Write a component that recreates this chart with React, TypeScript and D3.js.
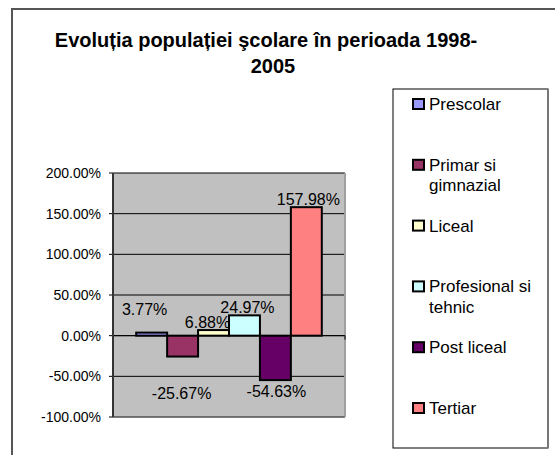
import React from "react";
import * as d3 from "d3";

const titleLines = ["Evoluția populației şcolare în perioada 1998-", "2005"];
const category = ["1998-2005"];
const seriesNames = ["Prescolar", "Primar si gimnazial", "Liceal", "Profesional si tehnic", "Post liceal", "Tertiar"];
const legendLines = [["Prescolar"], ["Primar si", "gimnazial"], ["Liceal"], ["Profesional si", "tehnic"], ["Post liceal"], ["Tertiar"]];
const values = [3.77, -25.67, 6.88, 24.97, -54.63, 157.98];
const colors = ["#9999FF", "#993366", "#FFFFCC", "#CCFFFF", "#660066", "#FF8080"];
const yTicks = [-100, -50, 0, 50, 100, 150, 200];
// manual label nudges (as moved in the source chart), in series order
const labelNudge: [number, number][] = [[-7, -16], [-1, 25], [-6, 0], [3, 0], [1, 0], [2, 0]];

const FONT = "'Liberation Sans', Arial, sans-serif";

export default function App() {
  const W = 555, H = 455;
  const plot = { left: 113, right: 345, top: 173, bottom: 417 };
  const y = d3.scaleLinear().domain([-100, 200]).range([plot.bottom, plot.top]);
  const x0 = d3.scaleBand<string>().domain(category).range([plot.left, plot.right]).paddingInner(0).paddingOuter(0.125);
  const x1 = d3.scaleBand<string>().domain(seriesNames).range([0, x0.bandwidth()]).padding(0);
  const fmt = (v: number) => v.toFixed(2) + "%";

  const legend = { x: 393, y: 89, w: 155, h: 359, first: 110, step: 60.8 };

  return (
    <svg width={W} height={H} style={{ position: "absolute", left: 0, top: 0, background: "#fff" }} fontFamily={FONT}>
      <rect x={0} y={0} width={W} height={H} fill="#fff" />
      <rect x={12} y={9} width={600} height={500} fill="#fff" stroke="#555" strokeWidth={2} />
      {titleLines.map((t, i) => (
        <text key={i} x={i === 0 ? 266 : 273} y={47 + i * 26} textAnchor="middle" fontSize={20} fontWeight="bold" fill="#000">
          {t}
        </text>
      ))}
      {/* plot area */}
      <rect x={plot.left} y={plot.top} width={plot.right - plot.left} height={plot.bottom - plot.top} fill="#C0C0C0" />
      {yTicks.map((t) => (
        <g key={t}>
          <line x1={plot.left} x2={plot.right} y1={y(t)} y2={y(t)} stroke="#000" strokeWidth={1} />
          <line x1={plot.left - 4} x2={plot.left} y1={y(t)} y2={y(t)} stroke="#000" strokeWidth={1} />
          <text x={101} y={y(t) + 5} textAnchor="end" fontSize={14} fill="#000">
            {fmt(t)}
          </text>
        </g>
      ))}
      <line x1={plot.right} x2={plot.right} y1={plot.top} y2={plot.bottom} stroke="#A0A0A0" strokeWidth={2} />
      <line x1={plot.left} x2={plot.right} y1={plot.bottom} y2={plot.bottom} stroke="#777" strokeWidth={1} />
      {/* bars */}
      {seriesNames.map((s, i) => {
        const v = values[i];
        const bx = (x0(category[0]) as number) + (x1(s) as number);
        const top = Math.min(y(v), y(0));
        const h = Math.abs(y(v) - y(0));
        return <rect key={s} x={bx} y={top} width={x1.bandwidth()} height={h} fill={colors[i]} stroke="#000" strokeWidth={2} />;
      })}
      {/* category axis at 0 */}
      <line x1={plot.left} x2={plot.right} y1={y(0)} y2={y(0)} stroke="#000" strokeWidth={1} />
      <line x1={plot.left} x2={plot.left} y1={y(0)} y2={y(0) + 4} stroke="#000" strokeWidth={1} />
      <line x1={plot.right} x2={plot.right} y1={y(0)} y2={y(0) + 4} stroke="#000" strokeWidth={1} />
      {/* value axis */}
      <line x1={plot.left} x2={plot.left} y1={plot.top} y2={plot.bottom} stroke="#333" strokeWidth={2} />
      {/* data labels */}
      {seriesNames.map((s, i) => {
        const v = values[i];
        const cx = (x0(category[0]) as number) + (x1(s) as number) + x1.bandwidth() / 2;
        const by = v >= 0 ? y(v) - 2 : y(v) + 17;
        return (
          <text key={s} x={cx + labelNudge[i][0]} y={by + labelNudge[i][1]} textAnchor="middle" fontSize={16} fill="#000">
            {fmt(v)}
          </text>
        );
      })}
      {/* legend */}
      <rect x={legend.x} y={legend.y} width={legend.w} height={legend.h} fill="#fff" stroke="#000" strokeWidth={1} />
      <line x1={legend.x + legend.w} x2={legend.x + legend.w} y1={legend.y} y2={legend.y + legend.h} stroke="#777" strokeWidth={2} />
      {legendLines.map((lines, i) => {
        const b = legend.first + i * legend.step;
        return (
          <g key={i}>
            <rect x={413} y={b - 11} width={11} height={10} fill={colors[i]} stroke="#000" strokeWidth={2} />
            <text x={429} y={b} fontSize={17} fill="#000">
              {lines.map((l, j) => (
                <tspan key={j} x={429} y={b + j * 20.5}>
                  {l}
                </tspan>
              ))}
            </text>
          </g>
        );
      })}
    </svg>
  );
}
